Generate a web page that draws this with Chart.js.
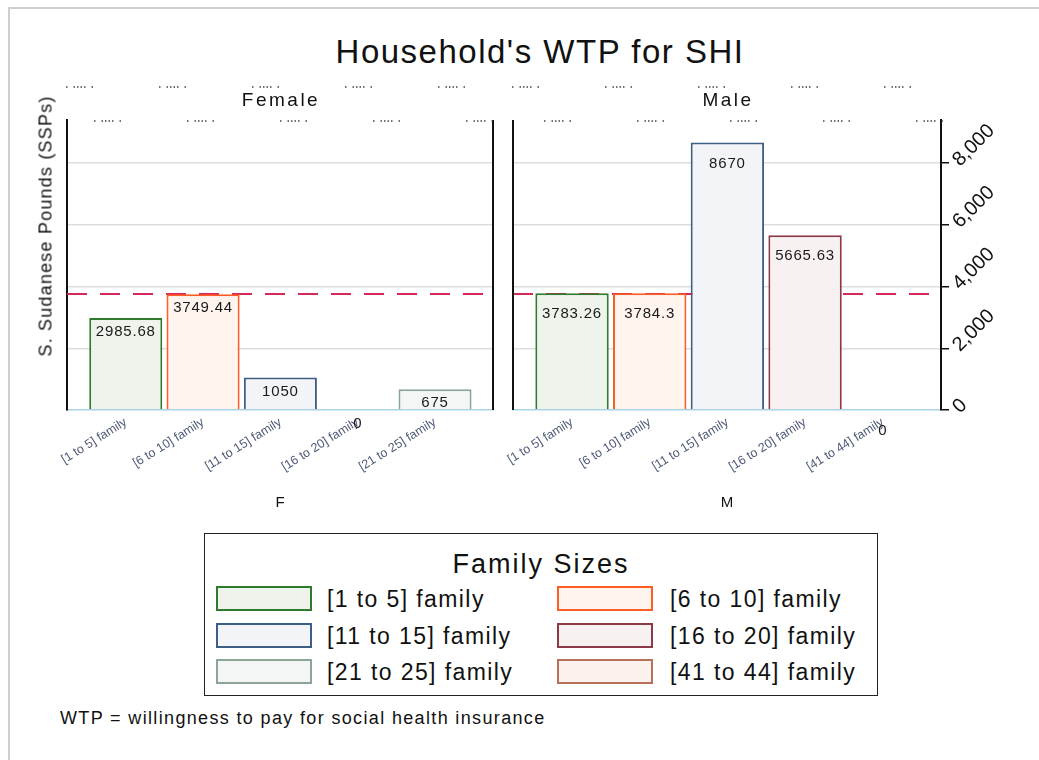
<!DOCTYPE html>
<html>
<head>
<meta charset="utf-8">
<script src="https://cdn.jsdelivr.net/npm/chart.js@4.4.1/dist/chart.umd.min.js"></script>
<style>
html,body{margin:0;padding:0;background:#fff;}
body{width:1039px;height:760px;position:relative;overflow:hidden;font-family:"Liberation Sans",Arial,sans-serif;color:#111;}
#frame{position:absolute;left:8px;top:7px;width:1100px;height:800px;border-left:2px solid #cfcfcf;border-top:2px solid #cfcfcf;}
#title{position:absolute;left:0;width:1080px;top:33px;text-align:center;font-size:33px;line-height:38px;letter-spacing:1.5px;color:#111;}
#ytitle{position:absolute;left:46px;top:226px;transform:translate(-50%,-50%) rotate(-90deg);white-space:nowrap;font-size:18px;letter-spacing:1.2px;color:#111;}
canvas{position:absolute;}
#legend{position:absolute;left:204px;top:533px;width:674px;height:163px;box-sizing:border-box;border:1.5px solid #222;}
#legtitle{position:absolute;left:0;width:100%;top:14px;text-align:center;font-size:27px;line-height:32px;letter-spacing:2px;color:#111;}
.lbox{position:absolute;width:96px;height:25px;box-sizing:border-box;border:2px solid;}
.ltext{position:absolute;font-size:23px;line-height:26px;letter-spacing:1.4px;white-space:nowrap;color:#111;}
#note{position:absolute;left:60px;top:708px;font-size:18px;line-height:20px;letter-spacing:1.35px;color:#111;white-space:nowrap;}
</style>
</head>
<body>
<div id="frame"></div>
<div id="title">Household's WTP for SHI</div>
<canvas id="cF" width="500" height="450" style="left:0;top:70px;width:500px;height:450px"></canvas>
<canvas id="cM" width="539" height="450" style="left:500px;top:70px;width:539px;height:450px"></canvas>
<div id="ytitle">S. Sudanese Pounds (SSPs)</div>
<div id="legend"><div id="legtitle">Family Sizes</div></div>
<div id="note">WTP = willingness to pay for social health insurance</div>
<script>
// ---------------- DATA ----------------
const panelNames = ['Female', 'Male'];
const panelCodes = ['F', 'M'];
const femaleCategories = ['[1 to 5] family', '[6 to 10] family', '[11 to 15] family', '[16 to 20] family', '[21 to 25] family'];
const femaleWTP = [2985.68, 3749.44, 1050, 0, 675];
const maleCategories = ['[1 to 5] family', '[6 to 10] family', '[11 to 15] family', '[16 to 20] family', '[41 to 44] family'];
const maleWTP = [3783.26, 3784.3, 8670, 5665.63, 0];
const meanWTP = 3760;
const yTickValues = [0, 2000, 4000, 6000, 8000];
const legendCategories = ['[1 to 5] family', '[6 to 10] family', '[11 to 15] family', '[16 to 20] family', '[21 to 25] family', '[41 to 44] family'];

// ---------------- STYLE ----------------
const STYLE = {
  '[1 to 5] family':   {border: '#2E7B2E', fill: '#EEF4EC'},
  '[6 to 10] family':  {border: '#FF5C26', fill: '#FFF4EE'},
  '[11 to 15] family': {border: '#3E5F85', fill: '#F2F4F7'},
  '[16 to 20] family': {border: '#8C3A48', fill: '#F7F1F1'},
  '[21 to 25] family': {border: '#8BA596', fill: '#F3F6F4'},
  '[41 to 44] family': {border: '#B5715A', fill: '#FBF1ED'}
};
const FONT = '"Liberation Sans", Arial, sans-serif';
Chart.defaults.font.family = FONT;

// legend (HTML)
const legendEl = document.getElementById('legend');
legendCategories.forEach((c, i) => {
  const col = i % 2, row = Math.floor(i / 2);
  const b = document.createElement('div');
  b.className = 'lbox';
  b.style.left = (11 + col * 341) + 'px';
  b.style.top = (52 + row * 36.5) + 'px';
  b.style.borderColor = STYLE[c].border;
  b.style.background = STYLE[c].fill;
  legendEl.appendChild(b);
  const t = document.createElement('div');
  t.className = 'ltext';
  t.textContent = c;
  t.style.left = (122 + col * 343) + 'px';
  t.style.top = (52 + row * 36.5) + 'px';
  legendEl.appendChild(t);
});

// plugin: strip header, mean line, value labels, panel side lines
const panelExtras = {
  id: 'panelExtras',
  beforeDatasetsDraw(chart, args, o) {
    const {ctx, chartArea: a, scales: {y}} = chart;
    const py = y.getPixelForValue(meanWTP);
    ctx.save();
    ctx.strokeStyle = '#D6285A';
    ctx.lineWidth = 2;
    ctx.setLineDash([20, 13]);
    ctx.beginPath();
    ctx.moveTo(a.left, py);
    ctx.lineTo(a.right, py);
    ctx.stroke();
    ctx.restore();
  },
  afterDatasetsDraw(chart, args, o) {
    const {ctx, chartArea: a, scales: {y}} = chart;
    const meta = chart.getDatasetMeta(0);
    const vals = o.values;
    ctx.save();
    ctx.font = '15px ' + FONT;
    ctx.letterSpacing = '0.8px';
    ctx.fillStyle = '#1a1a1a';
    ctx.textAlign = 'center';
    ctx.textBaseline = 'middle';
    meta.data.forEach((bar, i) => {
      ctx.fillText(String(vals[i]), bar.x, y.getPixelForValue(vals[i]) + o.labelOffset);
    });
    ctx.restore();
    // side lines
    ctx.save();
    ctx.strokeStyle = '#111';
    ctx.lineWidth = 2;
    o.sides.forEach(s => {
      const x = s === 'left' ? a.left : a.right;
      ctx.beginPath();
      ctx.moveTo(x, a.top);
      ctx.lineTo(x, a.bottom);
      ctx.stroke();
    });
    ctx.restore();
    // strip header
    ctx.save();
    ctx.strokeStyle = '#444';
    ctx.lineWidth = 1.5;
    ctx.setLineDash([1.5, 6, 1.5, 2, 1.5, 2, 1.5, 2, 1.5, 6, 1.5, 66]);
    ctx.strokeRect(a.left - 1, a.top - 33, a.right - a.left + 3, 34);
    ctx.setLineDash([]);
    ctx.font = '19px ' + FONT;
    ctx.letterSpacing = '2.5px';
    ctx.fillStyle = '#111';
    ctx.textAlign = 'center';
    ctx.textBaseline = 'middle';
    ctx.fillText(o.header, (a.left + a.right) / 2 + 1, a.top - 19);
    ctx.restore();
  }
};

function makePanel(id, cats, vals, header, code, opt) {
  return new Chart(document.getElementById(id), {
    type: 'bar',
    data: {
      datasets: [{
        data: vals.map((v, i) => ({x: i, y: v})),
        backgroundColor: cats.map(c => STYLE[c].fill),
        borderColor: cats.map(c => STYLE[c].border),
        borderWidth: c => (c.raw && c.raw.y === 0) ? 0 : 2,
        borderSkipped: 'start',
        barPercentage: 0.945,
        categoryPercentage: 1
      }]
    },
    options: {
      responsive: false,
      animation: false,
      devicePixelRatio: 1,
      layout: {padding: opt.padding},
      plugins: {
        legend: {display: false},
        tooltip: {enabled: false},
        panelExtras: {values: vals, labelOffset: opt.labelOffset, sides: opt.sides, header: header}
      },
      scales: {
        x: {
          type: 'linear', min: -0.76, max: 4.75, offset: false,
          afterBuildTicks: s => { s.ticks = cats.map((c, i) => ({value: i})); },
          afterFit: s => { s.height = 110; },
          grid: {display: false, drawTicks: false},
          border: {display: true, color: '#A9D3E6', width: 1.5},
          ticks: {
            autoSkip: false, minRotation: 32, maxRotation: 32, padding: 5,
            color: '#4E5A78', font: {size: 12.5},
            callback: v => cats[v]
          },
          title: {display: true, text: code, color: '#111', font: {size: 15}, padding: {top: 0, bottom: 8}}
        },
        y: {
          position: opt.yPos, min: 0, max: 9400,
          afterBuildTicks: s => { s.ticks = yTickValues.map(v => ({value: v})); },
          afterFit: s => { s.width = opt.yWidth; },
          grid: {
            color: c => (c.tick && c.tick.value === 0) ? 'rgba(0,0,0,0)' : '#DDDDDD',
            lineWidth: 1.5,
            drawTicks: opt.showY, tickLength: 8, tickColor: '#111', tickWidth: 1.5
          },
          border: {color: '#111', width: 2},
          ticks: {
            display: opt.showY, minRotation: 45, maxRotation: 45, padding: 7,
            color: '#111', font: {size: 20},
            callback: v => Number(v).toLocaleString('en-US')
          }
        }
      }
    },
    plugins: [panelExtras]
  });
}

makePanel('cF', femaleCategories, femaleWTP, panelNames[0], panelCodes[0],
  {padding: {top: 50, right: 7, left: 0, bottom: 0}, yPos: 'left', yWidth: 67, showY: false, labelOffset: 14, sides: ['right']});
makePanel('cM', maleCategories, maleWTP, panelNames[1], panelCodes[1],
  {padding: {top: 50, right: 0, left: 13, bottom: 0}, yPos: 'right', yWidth: 98, showY: true, labelOffset: 21, sides: ['left']});
</script>
</body>
</html>
